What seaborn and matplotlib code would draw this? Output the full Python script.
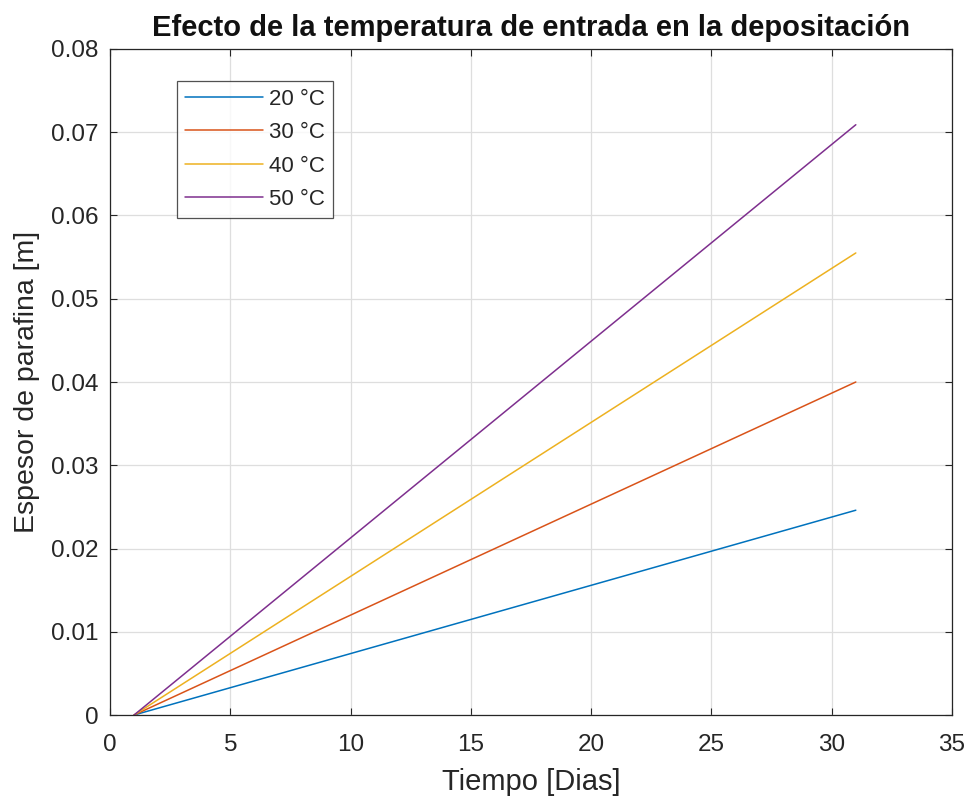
import matplotlib
matplotlib.use("Agg")
import matplotlib.pyplot as plt
import seaborn as sns
import pandas as pd

days = [1, 31]
labels = ["20 °C", "30 °C", "40 °C", "50 °C"]
esp_20 = [0.0, 0.0246]
esp_30 = [0.0, 0.0400]
esp_40 = [0.0, 0.0555]
esp_50 = [0.0, 0.0709]
colors = ["#0072BD", "#D95319", "#EDB120", "#7E2F8E"]

rows = []
for lab, vals in zip(labels, [esp_20, esp_30, esp_40, esp_50]):
    for d, v in zip(days, vals):
        rows.append({"Tiempo": d, "Espesor": v, "Temp": lab})
df = pd.DataFrame(rows)

sns.set_theme(style="white")
plt.rcParams["font.family"] = ["Liberation Sans", "DejaVu Sans"]

fig = plt.figure(figsize=(9.69, 7.99), dpi=100)
ax = fig.add_axes([0.1135, 0.1051, 0.8690, 0.8336])
sns.lineplot(data=df, x="Tiempo", y="Espesor", hue="Temp", palette=colors,
             linewidth=1.1, ax=ax, legend=True)

ax.set_xlim(0, 35)
ax.set_ylim(0, 0.08)
ax.set_xticks(range(0, 36, 5))
ax.set_yticks([i / 100 for i in range(0, 9)])
ax.set_yticklabels(["0"] + [f"{i/100:.2f}" for i in range(1, 9)])
ax.grid(True, color="#dedede", linewidth=0.9)
for s in ax.spines.values():
    s.set_visible(True)
    s.set_color("#262626")
    s.set_linewidth(0.9)
ax.tick_params(axis="both", direction="in", length=5, width=0.8, labelsize=17.5,
               colors="#262626", top=True, right=True, bottom=True, left=True)
ax.tick_params(axis="y", pad=8)
ax.tick_params(axis="x", pad=14)
ax.set_xlabel("Tiempo [Dias]", fontsize=21, color="#262626", labelpad=8)
ax.set_ylabel("Espesor de parafina [m]", fontsize=20.5, color="#262626", labelpad=8)
ax.set_title("Efecto de la temperatura de entrada en la depositación",
             fontsize=21, fontweight="bold", pad=9, color="#111111")

leg = ax.legend(loc="upper left", bbox_to_anchor=(0.0796, 0.952), fontsize=16,
                frameon=True, fancybox=False, edgecolor="#262626",
                handlelength=3.5, borderpad=0.35, labelspacing=0.56,
                handletextpad=0.3, borderaxespad=0)
leg.get_frame().set_linewidth(0.9)

fig.savefig("out.png", dpi=100)
